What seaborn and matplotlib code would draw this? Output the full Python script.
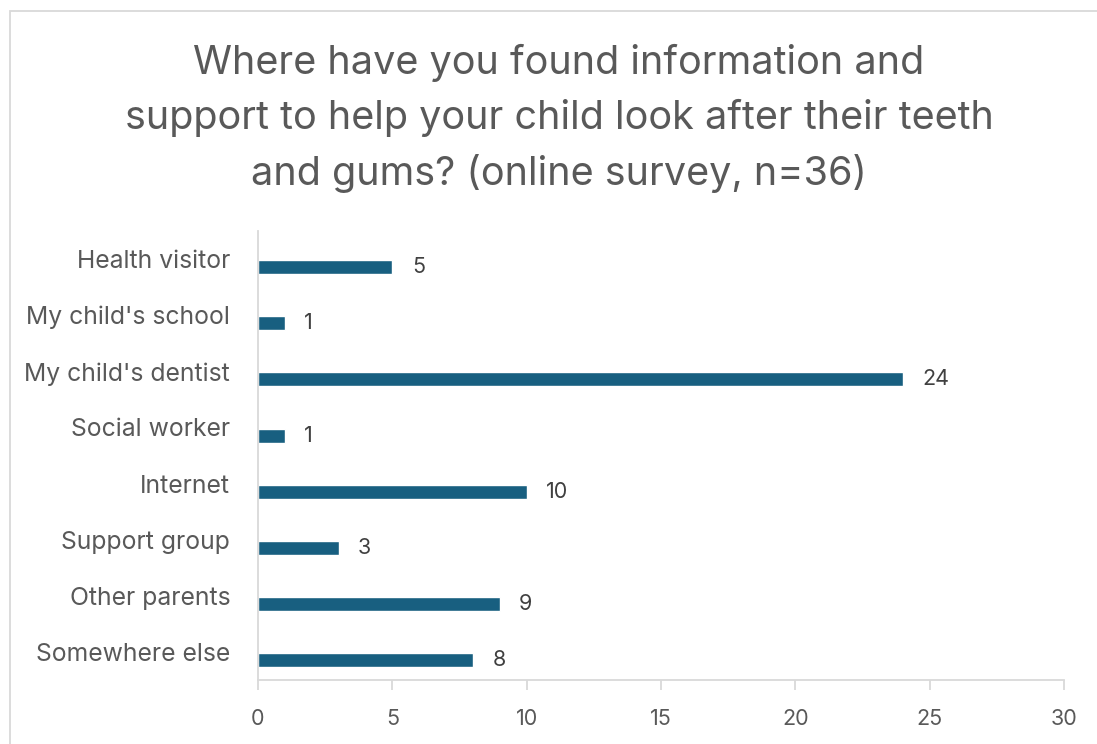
import matplotlib
matplotlib.use("Agg")
import matplotlib.pyplot as plt
from matplotlib.patches import Rectangle
import seaborn as sns
import pandas as pd

categories = ["Health visitor", "My child's school", "My child's dentist", "Social worker",
              "Internet", "Support group", "Other parents", "Somewhere else"]
counts = [5, 1, 24, 1, 10, 3, 9, 8]
x_ticks = [0, 5, 10, 15, 20, 25, 30]
title = "Where have you found information and\nsupport to help your child look after their teeth\nand gums? (online survey, n=36)"

sns.set_theme(style="white")
plt.rcParams["font.family"] = ["Inter", "DejaVu Sans"]

df = pd.DataFrame({"source": categories, "count": counts})

W, H, DPI = 1097, 744, 100
fig = plt.figure(figsize=(W / DPI, H / DPI), dpi=DPI)
ax = fig.add_axes([258 / W, 1 - 680 / H, (1064 - 258) / W, (680 - 231) / H])

bar_color = "#185f80"
sns.barplot(data=df, x="count", y="source", orient="h", color=bar_color,
            width=0.25, saturation=1, ax=ax)

# bars sit a little below the centre of each category band
for p in ax.patches:
    p.set_y(p.get_y() + 0.145)

ax.bar_label(ax.containers[0], labels=[str(v) for v in counts], padding=14,
             fontsize=15.5, color="#404040")

ax.set_xlim(0, 30)
ax.set_ylim(len(categories) - 0.5, -0.5)
ax.set_xticks(x_ticks)
ax.set_xlabel("")
ax.set_ylabel("")

for side in ["top", "right"]:
    ax.spines[side].set_visible(False)
for side in ["left", "bottom"]:
    ax.spines[side].set_color("#d9d9d9")
    ax.spines[side].set_linewidth(1.3)

ax.tick_params(axis="x", which="major", direction="out", length=7, width=1.3,
               color="#d9d9d9", labelsize=15.5, labelcolor="#595959", pad=14, bottom=True)
ax.tick_params(axis="y", length=0, labelsize=17.8, labelcolor="#595959", pad=20)

fig.suptitle(title, x=559 / W, y=1 - 44 / H, va="top", fontsize=28.5,
             color="#595959", linespacing=1.55)

# thin frame around the chart area
fig.patches.append(Rectangle((10 / W, -0.1), 1.2, 1 - 11 / H + 0.1,
                             transform=fig.transFigure, fill=False,
                             edgecolor="#d9d9d9", linewidth=1.3))

fig.savefig("out.png", dpi=DPI)
